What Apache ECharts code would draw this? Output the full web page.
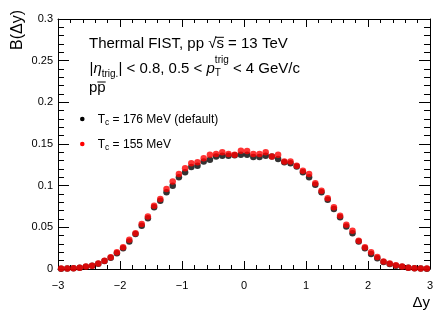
<!DOCTYPE html>
<html><head><meta charset="utf-8">
<script src="https://cdn.jsdelivr.net/npm/echarts@6/dist/echarts.min.js"></script>
<style>html,body{margin:0;padding:0;background:#fff}#c{width:439px;height:316px}</style>
</head><body><div id="c"></div>
<script>
// Bin centres in Δy
const deltaY = [-2.95,-2.85,-2.75,-2.65,-2.55,-2.45,-2.35,-2.25,-2.15,-2.05,
  -1.95,-1.85,-1.75,-1.65,-1.55,-1.45,-1.35,-1.25,-1.15,-1.05,
  -0.95,-0.85,-0.75,-0.65,-0.55,-0.45,-0.35,-0.25,-0.15,-0.05,
  0.05,0.15,0.25,0.35,0.45,0.55,0.65,0.75,0.85,0.95,
  1.05,1.15,1.25,1.35,1.45,1.55,1.65,1.75,1.85,1.95,
  2.05,2.15,2.25,2.35,2.45,2.55,2.65,2.75,2.85,2.95];
// Tc = 176 MeV (default), black
const bTc176 = [0.0004,0.0005,0.0009,0.0014,0.0027,0.0038,0.0062,0.0095,0.0135,0.019,
  0.025,0.033,0.042,0.052,0.061,0.074,0.082,0.092,0.100,0.110,
  0.116,0.1225,0.124,0.129,0.131,0.135,0.136,0.136,0.1365,0.137,
  0.137,0.1345,0.1345,0.136,0.135,0.132,0.128,0.127,0.123,0.116,
  0.110,0.101,0.092,0.083,0.072,0.062,0.051,0.043,0.033,0.025,
  0.018,0.013,0.0085,0.006,0.004,0.0027,0.0014,0.0009,0.0005,0.0004];
// Tc = 155 MeV, red
const bTc155 = [0.0005,0.0006,0.001,0.0015,0.003,0.004,0.0065,0.010,0.014,0.020,
  0.026,0.035,0.043,0.054,0.063,0.076,0.084,0.096,0.105,0.114,
  0.121,0.127,0.128,0.133,0.137,0.138,0.140,0.138,0.137,0.142,
  0.1415,0.138,0.138,0.140,0.135,0.137,0.129,0.129,0.124,0.118,
  0.114,0.103,0.094,0.085,0.074,0.064,0.053,0.046,0.034,0.026,
  0.020,0.0145,0.009,0.0065,0.0045,0.003,0.0015,0.001,0.0006,0.0005];
const seriesNames = ['T_c = 176 MeV (default)', 'T_c = 155 MeV'];

const FONT = '"Liberation Sans", Arial, Helvetica, sans-serif';
const cv = document.createElement('canvas').getContext('2d');
function fontStr(p){ return (p.italic?'italic ':'') + p.size + 'px ' + FONT; }
function measure(p){ cv.font = fontStr(p); return cv.measureText(p.t).width; }
// build text runs on a baseline
function runLine(pieces, x0, baseline, color){
  const els = []; let x = x0;
  pieces.forEach(p => {
    if (p.stack) { // superscript/subscript stacked at same x
      let w = 0;
      p.stack.forEach(s => {
        const bl = baseline + s.dy;
        els.push({type:'text', x:x, y:bl - 0.3465*s.size, silent:true,
          style:{text:s.t, font:fontStr(s), fill:color, align:'left', verticalAlign:'middle', textAlign:'left', textVerticalAlign:'middle'}});
        w = Math.max(w, measure(s));
      });
      x += w; return;
    }
    const bl = baseline + (p.dy||0);
    const w = measure(p);
    els.push({type:'text', x:x, y:bl - 0.3465*p.size, silent:true,
      style:{text:p.t, font:fontStr(p), fill:color, align:'left', verticalAlign:'middle', textAlign:'left', textVerticalAlign:'middle'}});
    if (p.over) {
      els.push({type:'line', silent:true, shape:{x1:x + (p.overStart||0), y1:bl - p.over, x2:x + w, y2:bl - p.over},
        style:{stroke:color, lineWidth:1}});
    }
    x += w;
  });
  return els;
}

const graphics = [];
// line 1
graphics.push(...runLine([
  {t:'Thermal FIST, pp ', size:15},
  {t:'\u221A', size:15},
  {t:'s', size:15, over:11.5, overStart:-1},
  {t:' = 13 TeV', size:15}
], 89, 48.8, '#000'));
// line 2
graphics.push(...runLine([
  {t:'|', size:15},
  {t:'\u03B7', size:15, italic:true},
  {t:'trig.', size:10, dy:4},
  {t:'| < 0.8, 0.5 < ', size:15},
  {t:'p', size:15, italic:true},
  {stack:[{t:'trig', size:10, dy:-10.5},{t:'T', size:10, dy:3}]},
  {t:' < 4 GeV/c', size:15}
], 89.5, 74, '#000'));
// line 3
graphics.push(...runLine([
  {t:'p', size:15},
  {t:'p', size:15, over:11}
], 89, 93, '#000'));
// legend
const legendColors = ['#000000', '#ff0000'];
[123.5, 148.5].forEach((bl, i) => {
  graphics.push({type:'circle', silent:true, shape:{cx:82.3, cy:bl-4.5, r:2.3}, style:{fill:legendColors[i]}});
  const parts = seriesNames[i].split('_c');
  graphics.push(...runLine([
    {t:parts[0], size:12},
    {t:'c', size:8.5, dy:2.5},
    {t:parts[1], size:12}
  ], 97.7, bl, '#000'));
});
// axis titles
graphics.push({type:'text', x:18, y:10, rotation:Math.PI/2, silent:true,
  style:{text:'B(\u0394y)', font:'16px ' + FONT, fill:'#000', align:'right', verticalAlign:'middle', textAlign:'right', textVerticalAlign:'middle'}});
graphics.push({type:'text', x:430, y:302.5, silent:true,
  style:{text:'\u0394y', font:'15px ' + FONT, fill:'#000', align:'right', verticalAlign:'middle', textAlign:'right', textVerticalAlign:'middle'}});

const axisCommon = {
  axisLine:{show:true, onZero:false, lineStyle:{color:'#000', width:1}},
  splitLine:{show:false}
};
const chart = echarts.init(document.getElementById('c'), null, {renderer:'canvas'});
chart.setOption({
  animation:false,
  backgroundColor:'#fff',
  grid:{left:58, right:9, top:19, bottom:47, containLabel:false},
  xAxis:[
    Object.assign({type:'value', min:-3, max:3, interval:1, position:'bottom',
      axisTick:{show:true, inside:true, length:8, lineStyle:{color:'#000'}},
      minorTick:{show:true, splitNumber:5, length:4, lineStyle:{color:'#000'}},
      axisLabel:{show:true, color:'#000', fontSize:11, fontFamily:FONT, margin:11,
        formatter:v => String(v).replace('-', '\u2212')}}, axisCommon),
    Object.assign({type:'value', min:-3, max:3, interval:1, position:'top',
      axisTick:{show:true, inside:true, length:8, lineStyle:{color:'#000'}},
      minorTick:{show:true, splitNumber:5, length:4, lineStyle:{color:'#000'}},
      axisLabel:{show:false}}, axisCommon)
  ],
  yAxis:[
    Object.assign({type:'value', min:0, max:0.3, interval:0.05, position:'left',
      axisTick:{show:true, inside:true, length:11, lineStyle:{color:'#000'}},
      minorTick:{show:true, splitNumber:5, length:6, lineStyle:{color:'#000'}},
      axisLabel:{show:true, color:'#000', fontSize:11, fontFamily:FONT, margin:5}}, axisCommon),
    Object.assign({type:'value', min:0, max:0.3, interval:0.05, position:'right',
      axisTick:{show:true, inside:true, length:11, lineStyle:{color:'#000'}},
      minorTick:{show:true, splitNumber:5, length:6, lineStyle:{color:'#000'}},
      axisLabel:{show:false}}, axisCommon)
  ],
  series:[
    {name:seriesNames[0], type:'scatter', xAxisIndex:0, yAxisIndex:0, symbol:'circle', symbolSize:6.5,
      itemStyle:{color:'#000000'}, data:deltaY.map((x,i)=>[x, bTc176[i]]), z:2},
    {name:seriesNames[1], type:'scatter', xAxisIndex:0, yAxisIndex:0, symbol:'circle', symbolSize:6.5,
      itemStyle:{color:'#ff0000'}, data:deltaY.map((x,i)=>[x, bTc155[i]]), z:3}
  ],
  graphic:graphics
});
</script></body></html>
